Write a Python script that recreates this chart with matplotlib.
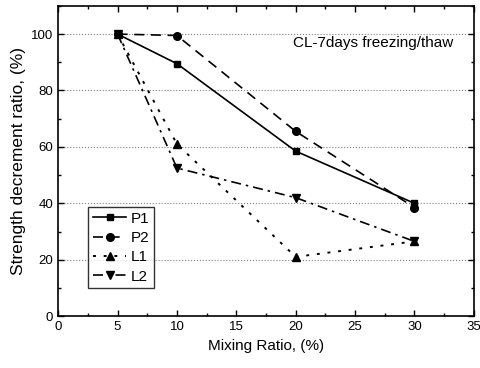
import matplotlib.pyplot as plt
from matplotlib.ticker import MultipleLocator

plt.rcParams['font.family'] = ['Liberation Sans', 'DejaVu Sans']

# mixing ratio (%) and strength decrement ratio (%) for each mix
mixing = [5, 10, 20, 30]
p1 = [100, 89.5, 58.5, 40]
p2 = [100, 99.5, 65.5, 38.5]
l1 = [100, 61, 21, 26.5]
l2 = [100, 52.5, 42, 26.5]

fig = plt.figure(figsize=(4.81, 3.68), dpi=100)
ax = fig.add_axes([0.121, 0.141, 0.864, 0.843])

ax.plot(mixing, p1, '-', color='k', marker='s', ms=5, lw=1.2, label='P1')
ax.plot(mixing, p2, color='k', ls=(0, (6, 4)), marker='o', ms=5.5, lw=1.2, label='P2')
ax.plot(mixing, l1, color='k', ls=(0, (1.5, 4)), marker='^', ms=5.5, lw=1.4, label='L1')
ax.plot(mixing, l2, color='k', ls=(0, (6, 3, 1.5, 3)), marker='v', ms=5.5, lw=1.2, label='L2')

ax.set_xlim(0, 35)
ax.set_ylim(0, 110)
ax.xaxis.set_major_locator(MultipleLocator(5))
ax.xaxis.set_minor_locator(MultipleLocator(2.5))
ax.yaxis.set_minor_locator(MultipleLocator(10))
ax.set_yticks([0, 20, 40, 60, 80, 100])
ax.tick_params(which='both', direction='in', top=True, right=True, labelsize=9.5, width=1)
ax.tick_params(which='major', length=4)
ax.tick_params(which='minor', length=2.5)
for s in ax.spines.values():
    s.set_linewidth(1.2)

ax.grid(axis='y', ls=':', color='gray', lw=0.8)
ax.set_axisbelow(True)

ax.set_xlabel('Mixing Ratio, (%)', fontsize=11)
ax.set_ylabel('Strength decrement ratio, (%)', fontsize=12.5)
ax.text(0.95, 0.88, 'CL-7days freezing/thaw', transform=ax.transAxes,
        ha='right', va='center', fontsize=11)

leg = ax.legend(loc='lower left', bbox_to_anchor=(0.072, 0.09), fontsize=11,
                frameon=True, fancybox=False, edgecolor='k', handlelength=2.2,
                handletextpad=0.3, borderpad=0.3, labelspacing=0.35, borderaxespad=0)
leg.get_frame().set_linewidth(1)

fig.savefig('out.png', dpi=100)
